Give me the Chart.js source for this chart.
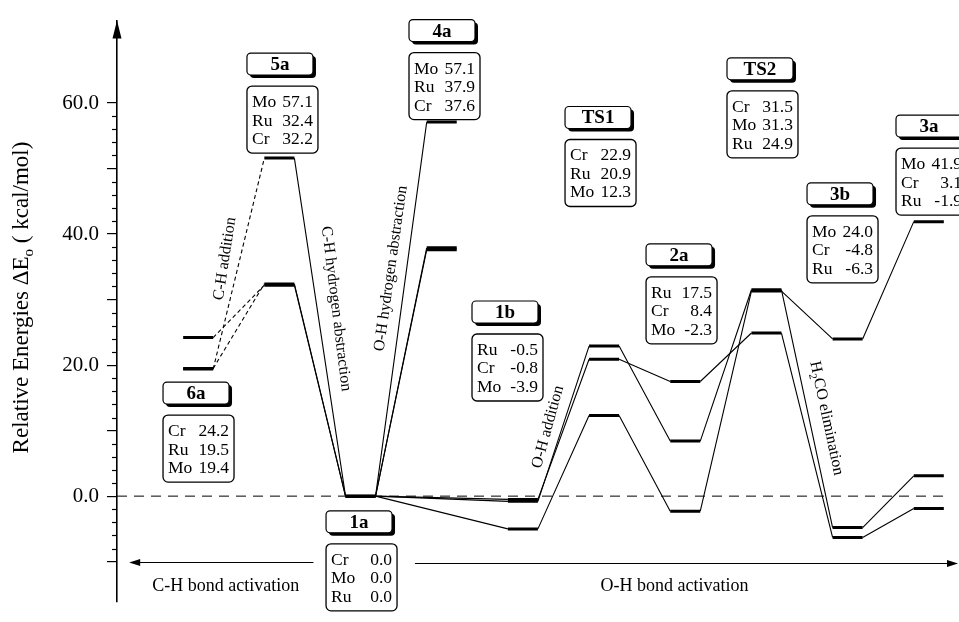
<!DOCTYPE html>
<html><head><meta charset="utf-8">
<script src="https://cdn.jsdelivr.net/npm/chart.js@4.4.0/dist/chart.umd.min.js"></script>
<style>html,body{margin:0;padding:0;background:#fff;}#wrap{width:959px;height:622px;position:relative;}</style>
</head><body><div id="wrap"><canvas id="c"></canvas></div>
<script>
// ---------- data ----------
const stages = ['6a','5a','1a','4a','1b','TS1','2a','TS2','3b','3a'];
const stageX = [0,1,2,3,4,5,6,7,8,9];
// plotted level energies (as drawn in the picture)
const levelCr = [24.2, 32.2, 0.0, 37.6, -0.8, 22.9,  8.4, 31.5, -4.8,  3.1];
const levelMo = [19.4, 51.6, 0.0, 57.1, -5.0, 12.3, -2.3, 31.3, 24.0, 41.9];
const levelRu = [19.5, 32.4, 0.0, 37.9, -0.5, 20.9, 17.5, 24.9, -6.3, -1.9];
// values printed in the boxes
const reportedCr = ['24.2','32.2','0.0','37.6','-0.8','22.9','8.4','31.5','-4.8','3.1'];
const reportedMo = ['19.4','57.1','0.0','57.1','-3.9','12.3','-2.3','31.3','24.0','41.9'];
const reportedRu = ['19.5','32.4','0.0','37.9','-0.5','20.9','17.5','24.9','-6.3','-1.9'];
const boxOrder = [['Cr','Ru','Mo'],['Mo','Ru','Cr'],['Cr','Mo','Ru'],['Mo','Ru','Cr'],['Ru','Cr','Mo'],
                  ['Cr','Ru','Mo'],['Ru','Cr','Mo'],['Cr','Mo','Ru'],['Mo','Cr','Ru'],['Mo','Cr','Ru']];
const dashedLinks = [[0,1]];
const solidLinks = [[1,2],[2,3],[2,4],[4,5],[5,6],[6,7],[7,8],[8,9]];
const yMajorTicks = [-10,0,10,20,30,40,50,60];
const yLabelValues = [0,20,40,60];
const yTickLabels = ['0.0','20.0','40.0','60.0'];
const annotations = ['C-H addition','C-H hydrogen abstraction','O-H hydrogen abstraction','O-H addition','H2CO elimination'];
const regionLabels = ['C-H bond activation','O-H bond activation'];

// ---------- layout (positions in axis units) ----------
const X_MIN = -1, X_MAX = 9.372, Y_MIN = -16.07, Y_MAX = 72.59;
const HW = 0.185;
const boxLeft = [-0.433, 0.601, 1.575, 2.597, 3.373, 4.519, 5.517, 6.514, 7.500, 8.596];
const boxTop  = [17.41, 67.64, -2.24, 72.74, 29.79, 59.48, 38.51, 66.91, 47.83, 58.17];
const annPos = [[0.330,36.24,-81.3],[1.698,28.62,83],[2.375,34.74,-82],[4.309,10.57,-74.7],[7.740,11.88,78]];

const metalReported = {Cr: reportedCr, Mo: reportedMo, Ru: reportedRu};

function levelSegments(arr){
  const pts=[];
  arr.forEach((v,i)=>{pts.push({x:stageX[i]-HW,y:v},{x:stageX[i]+HW,y:v},{x:stageX[i]+0.5,y:null});});
  return pts;
}
function linkSegments(arr, links){
  const pts=[];
  links.forEach(([a,b])=>{pts.push({x:stageX[a]+HW,y:arr[a]},{x:stageX[b]-HW,y:arr[b]},{x:stageX[b],y:null});});
  return pts;
}
const base = {pointRadius:0, borderColor:'#000', tension:0, clip:false, spanGaps:false, fill:false};
const datasets = [];
[['Cr',levelCr],['Mo',levelMo],['Ru',levelRu]].forEach(([m,arr])=>{
  datasets.push(Object.assign({}, base, {label:m+' levels', data:levelSegments(arr), borderWidth:3, borderCapStyle:'butt', order:1}));
  datasets.push(Object.assign({}, base, {label:m+' path', data:linkSegments(arr,solidLinks), borderWidth:1.1, order:2}));
  datasets.push(Object.assign({}, base, {label:m+' C-H addition', data:linkSegments(arr,dashedLinks), borderWidth:1.1, borderDash:[4,3], order:2}));
});
datasets.push(Object.assign({}, base, {label:'zero', data:[{x:X_MIN,y:0},{x:9.236,y:0}], borderWidth:1, borderDash:[10,7], order:10}));

function roundRect(ctx,x,y,w,h,r){
  ctx.beginPath(); ctx.moveTo(x+r,y);
  ctx.arcTo(x+w,y,x+w,y+h,r); ctx.arcTo(x+w,y+h,x,y+h,r);
  ctx.arcTo(x,y+h,x,y,r); ctx.arcTo(x,y,x+w,y,r); ctx.closePath();
}
const SERIF = '"Liberation Serif","Times New Roman",serif';

const overlay = {
  id:'overlay',
  afterDraw(chart){
    const ctx=chart.ctx, xs=chart.scales.x, ys=chart.scales.y;
    const X=v=>xs.getPixelForValue(v), Y=v=>ys.getPixelForValue(v);
    ctx.save();
    ctx.strokeStyle='#000'; ctx.fillStyle='#000';
    // minor ticks
    const ax = ys.right;
    ctx.lineWidth=1.2;
    for(let v=-10; v<=60; v+=2){ if(v%10===0) continue; const y=Math.round(Y(v))+0.5; ctx.beginPath(); ctx.moveTo(ax-5,y); ctx.lineTo(ax,y); ctx.stroke(); }
    // axis arrow
    const top=chart.chartArea.top;
    ctx.beginPath(); ctx.moveTo(ax,top); ctx.lineTo(ax-4.5,top+18); ctx.lineTo(ax+4.5,top+18); ctx.closePath(); ctx.fill();
    // axis title
    ctx.save();
    ctx.translate(28, 297.5); ctx.rotate(-Math.PI/2);
    const f1='23px '+SERIF, f2='15px '+SERIF;
    ctx.font=f1; const w1=ctx.measureText('Relative Energies \u0394E').width; const w3=ctx.measureText(' ( kcal/mol)').width;
    ctx.font=f2; const w2=ctx.measureText('o').width;
    let sx=-(w1+w2+w3)/2; ctx.textBaseline='alphabetic'; ctx.textAlign='left';
    ctx.font=f1; ctx.fillText('Relative Energies \u0394E', sx, 0); sx+=w1;
    ctx.font=f2; ctx.fillText('o', sx, 5); sx+=w2;
    ctx.font=f1; ctx.fillText(' ( kcal/mol)', sx, 0);
    ctx.restore();
    // boxes
    stages.forEach((s,i)=>{
      const bx=X(boxLeft[i]), by=Y(boxTop[i]);
      ctx.lineWidth=1.2;
      roundRect(ctx,bx+3,by+3,66,22,4); ctx.fillStyle='#000'; ctx.fill();
      roundRect(ctx,bx,by,66,22,4); ctx.fillStyle='#fff'; ctx.fill(); ctx.stroke();
      ctx.fillStyle='#000'; ctx.font='bold 19px '+SERIF; ctx.textAlign='center'; ctx.textBaseline='middle';
      ctx.fillText(s, bx+33, by+12);
      const dy=by+33;
      roundRect(ctx,bx,dy,71,67,5); ctx.fillStyle='#fff'; ctx.fill(); ctx.lineWidth=1.3; ctx.stroke();
      ctx.fillStyle='#000'; ctx.font='17.5px '+SERIF; ctx.textBaseline='alphabetic';
      boxOrder[i].forEach((m,r)=>{
        const yy=dy+21+r*18.5;
        ctx.textAlign='left'; ctx.fillText(m, bx+5, yy);
        ctx.textAlign='right'; ctx.fillText(metalReported[m][i], bx+66, yy);
      });
    });
    // rotated annotations
    annotations.forEach((t,k)=>{
      const [ax_,ay_,ang]=annPos[k];
      ctx.save(); ctx.translate(X(ax_),Y(ay_)); ctx.rotate(ang*Math.PI/180);
      ctx.fillStyle='#000'; ctx.textBaseline='middle'; ctx.textAlign='left';
      const fm='16px '+SERIF, fs='11px '+SERIF;
      if(t.startsWith('H2')){
        ctx.font=fm; const a=ctx.measureText('H').width, c=ctx.measureText('CO elimination').width;
        ctx.font=fs; const b=ctx.measureText('2').width;
        let p=-(a+b+c)/2;
        ctx.font=fm; ctx.fillText('H',p,0); p+=a;
        ctx.font=fs; ctx.fillText('2',p,5); p+=b;
        ctx.font=fm; ctx.fillText('CO elimination',p,0);
      } else {
        ctx.font=fm; ctx.textAlign='center'; ctx.fillText(t,0,0);
      }
      ctx.restore();
    });
    // region arrows
    ctx.lineWidth=1.2; ctx.fillStyle='#000';
    const arrows=[[1.42,-0.85,-10.0],[2.67,9.36,-10.2]];
    arrows.forEach(([a,b,v])=>{
      const x1=X(a), x2=X(b), y=Math.round(Y(v))+0.5, d=Math.sign(x2-x1);
      ctx.beginPath(); ctx.moveTo(x1,y); ctx.lineTo(x2-d*8,y); ctx.stroke();
      ctx.beginPath(); ctx.moveTo(x2,y); ctx.lineTo(x2-d*11,y-3.5); ctx.lineTo(x2-d*11,y+3.5); ctx.closePath(); ctx.fill();
    });
    ctx.font='18px '+SERIF; ctx.textAlign='center'; ctx.textBaseline='alphabetic';
    ctx.fillText(regionLabels[0], X(0.339), Y(-14.47));
    ctx.fillText(regionLabels[1], X(5.867), Y(-14.47));
    ctx.restore();
  }
};

new Chart(document.getElementById('c'), {
  type:'line',
  data:{datasets},
  options:{
    responsive:true, maintainAspectRatio:false, animation:false,
    layout:{padding:{top:13,left:0,right:0,bottom:0}},
    plugins:{legend:{display:false}, tooltip:{enabled:false}},
    scales:{
      x:{type:'linear', min:X_MIN, max:X_MAX, display:false},
      y:{type:'linear', min:Y_MIN, max:Y_MAX,
        afterFit(s){ s.width=117; },
        afterBuildTicks(s){ s.ticks=yMajorTicks.map(v=>({value:v})); },
        ticks:{autoSkip:false, padding:8, color:'#000', font:{family:'Liberation Serif', size:21},
          callback(v){ const k=yLabelValues.indexOf(v); return k>=0 ? yTickLabels[k] : ''; }},
        grid:{drawOnChartArea:false, drawTicks:true, tickLength:10, color:'#000', lineWidth:1.2},
        border:{display:true, color:'#000', width:1.6}
      }
    }
  },
  plugins:[overlay]
});
</script></body></html>
